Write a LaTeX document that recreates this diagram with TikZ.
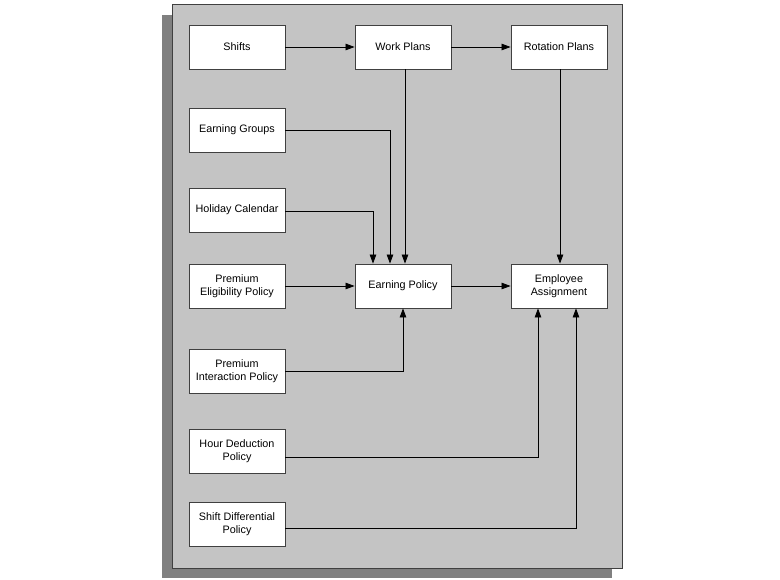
\documentclass[tikz,border=0pt]{standalone}
\usepackage{fontspec}
\setmainfont{Liberation Sans}
\usetikzlibrary{arrows.meta}
\definecolor{panelgray}{HTML}{C4C4C4}
\definecolor{shadowgray}{HTML}{808080}
\definecolor{edgegray}{HTML}{404040}
\begin{document}
\begin{tikzpicture}[x=1pt,y=-1pt,
  box/.style={draw=edgegray,line width=0.9pt,fill=white,minimum width=96pt,minimum height=44pt,inner sep=1pt,align=center,font=\fontsize{10.8}{13.2}\selectfont},
  conn/.style={draw=black,line width=0.8pt,-{Triangle[length=9pt,width=6.5pt]}}]
\useasboundingbox (0,0) rectangle (780,580);
\fill[shadowgray] (162,15) rectangle (612,578);
\draw[edgegray,line width=1pt,fill=panelgray] (172,5) rectangle (622,568);
\node[box] (shifts) at (237,47) {Shifts};
\node[box] (work) at (403,47) {Work Plans};
\node[box] (rot) at (559,47) {Rotation Plans};
\node[box] (egroups) at (237,130) {Earning Groups};
\node[box] (holiday) at (237,210) {Holiday Calendar};
\node[box] (pelig) at (237,286) {Premium\\Eligibility Policy};
\node[box] (epol) at (403,286) {Earning Policy};
\node[box] (emp) at (559,286) {Employee\\Assignment};
\node[box] (pint) at (237,371) {Premium\\Interaction Policy};
\node[box] (hour) at (237,451) {Hour Deduction\\Policy};
\node[box] (sdiff) at (237,524) {Shift Differential\\Policy};
\draw[conn] (shifts.east) -- (work.west);
\draw[conn] (work.east) -- (rot.west);
\draw[conn] (work.south -| 405,0) -- (epol.north -| 405,0);
\draw[conn] (egroups.east |- 0,130) -- (390,130) -- (epol.north -| 390,0);
\draw[conn] (holiday.east |- 0,211) -- (373,211) -- (epol.north -| 373,0);
\draw[conn] (pelig.east) -- (epol.west);
\draw[conn] (pint.east) -- (403,371) -- (epol.south -| 403,0);
\draw[conn] (epol.east) -- (emp.west);
\draw[conn] (rot.south -| 560,0) -- (emp.north -| 560,0);
\draw[conn] (hour.east |- 0,457) -- (538,457) -- (emp.south -| 538,0);
\draw[conn] (sdiff.east |- 0,528) -- (576,528) -- (emp.south -| 576,0);
\end{tikzpicture}
\end{document}
